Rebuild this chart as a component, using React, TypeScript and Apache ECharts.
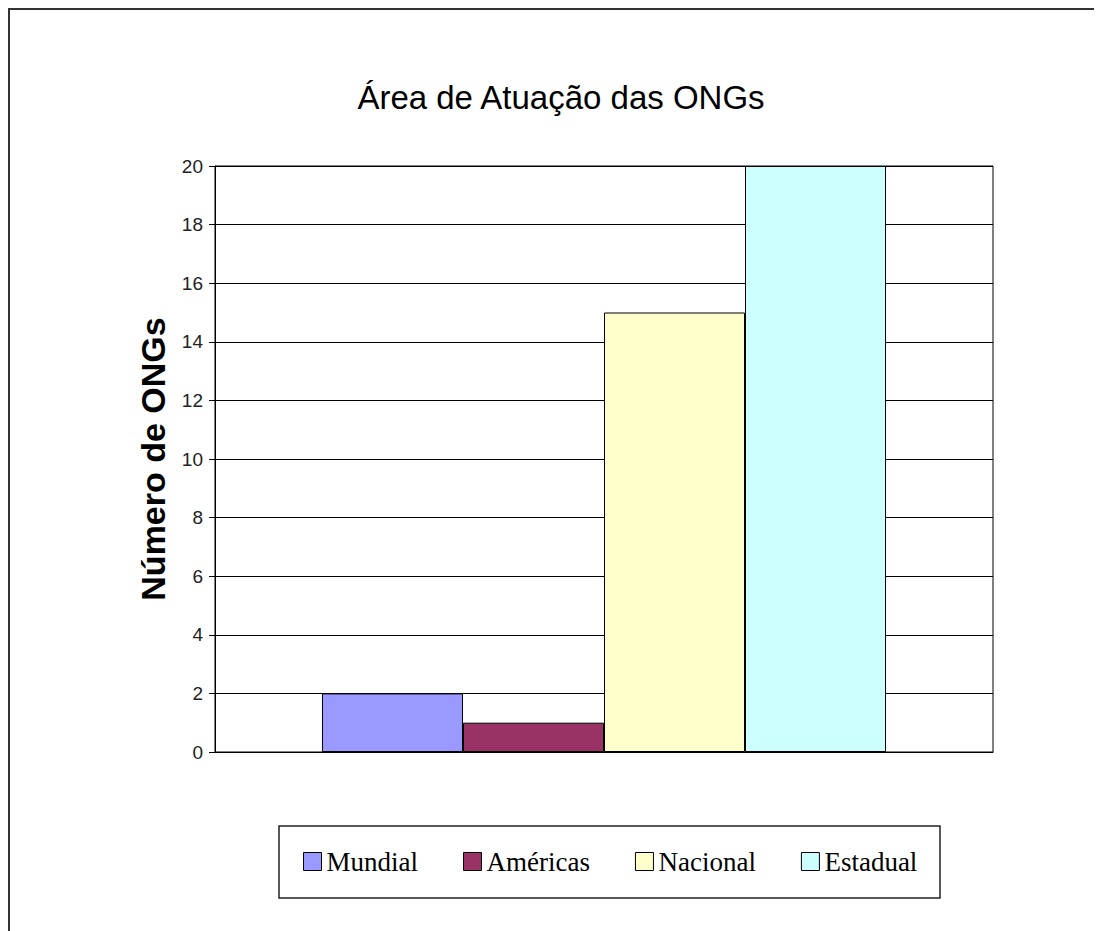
import React, { useEffect, useRef } from "react";
import * as echarts from "echarts";

const titleText = "Área de Atuação das ONGs";
const yAxisName = "Número de ONGs";
const categories = [""];
const seriesNames = ["Mundial", "Américas", "Nacional", "Estadual"];
const seriesValues = [2, 1, 15, 20];
const seriesColors = ["#9999FF", "#993366", "#FFFFCC", "#CCFFFF"];
const yMin = 0;
const yMax = 20;
const yInterval = 2;

export default function App() {
  const ref = useRef<HTMLDivElement>(null);
  useEffect(() => {
    document.body.style.overflow = "hidden";
    const chart = echarts.init(ref.current!, null, { renderer: "svg" });
    chart.setOption({
      animation: false,
      backgroundColor: "#ffffff",
      graphic: [
        {
          type: "line",
          shape: { x1: 0, y1: 1, x2: 1094, y2: 1 },
          style: { stroke: "#333333", lineWidth: 2 },
          silent: true,
        },
        {
          type: "line",
          shape: { x1: 1, y1: 0, x2: 1, y2: 923 },
          style: { stroke: "#333333", lineWidth: 2 },
          silent: true,
        },
        {
          type: "text",
          x: 553,
          y: 89,
          style: {
            text: titleText,
            fontFamily: "Liberation Sans",
            fontSize: 33,
            fill: "#000000",
            textAlign: "center",
            textVerticalAlign: "middle",
          },
        },
        {
          type: "rect",
          shape: { x: 271, y: 818, width: 661, height: 72 },
          style: { fill: "none", stroke: "#222222", lineWidth: 1.5 },
          silent: true,
          z: 10,
        },
      ],
      legend: {
        data: seriesNames,
        left: 295,
        top: 840,
        padding: 0,
        itemGap: 45,
        itemWidth: 18,
        itemHeight: 18,
        icon: "rect",
        itemStyle: { borderColor: "#000000", borderWidth: 1 },
        textStyle: {
          fontFamily: "Liberation Serif",
          fontSize: 27,
          color: "#000000",
        },
      },
      grid: {
        left: 207,
        top: 158,
        width: 778,
        height: 586,
        show: true,
        borderColor: "#000000",
        borderWidth: 1,
        backgroundColor: "transparent",
      },
      xAxis: {
        type: "category",
        data: categories,
        axisLine: { lineStyle: { color: "#000000", width: 1 } },
        axisTick: { show: false },
        axisLabel: { show: false },
      },
      yAxis: {
        type: "value",
        min: yMin,
        max: yMax,
        interval: yInterval,
        name: yAxisName,
        nameLocation: "middle",
        nameRotate: 90,
        nameGap: 45,
        nameTextStyle: {
          fontFamily: "Liberation Sans",
          fontSize: 34,
          fontWeight: "bold",
          color: "#000000",
        },
        axisLine: { show: true, lineStyle: { color: "#000000", width: 1 } },
        axisTick: { show: true, inside: false, length: 6, lineStyle: { color: "#000000" } },
        axisLabel: {
          margin: 12,
          fontFamily: "Liberation Sans",
          fontSize: 19,
          color: "#222222",
        },
        splitLine: { show: true, lineStyle: { color: "#000000", width: 1 } },
      },
      series: seriesNames.map((name, i) => ({
        name,
        type: "bar",
        data: [seriesValues[i]],
        barGap: "0%",
        barCategoryGap: "27.5%",
        itemStyle: {
          color: seriesColors[i],
          borderColor: "#000000",
          borderWidth: 1,
        },
      })),
    });
    return () => chart.dispose();
  }, []);
  return <div ref={ref} style={{ width: 1094, height: 923 }} />;
}
